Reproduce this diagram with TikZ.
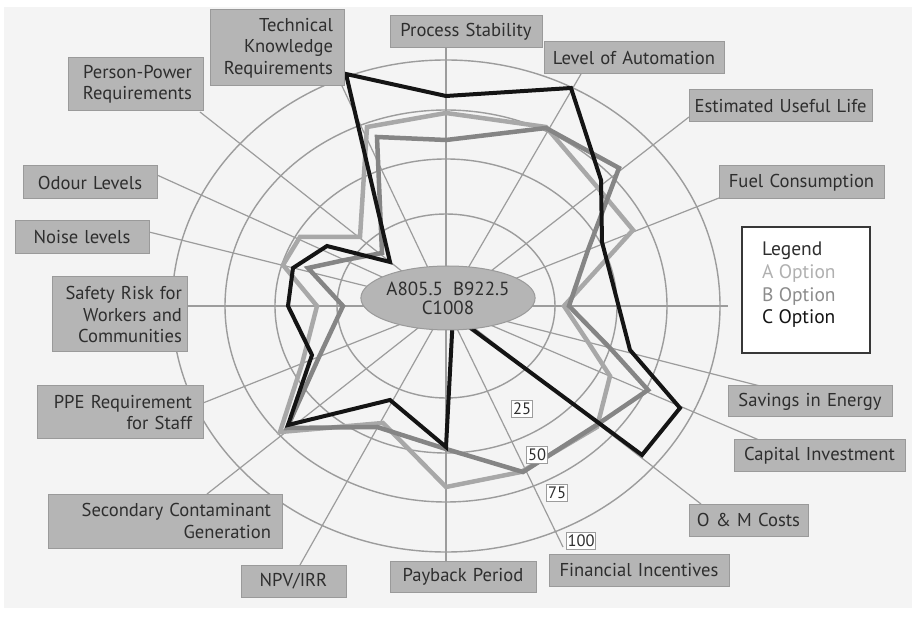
\documentclass[tikz,border=0pt]{standalone}
\usepackage{fontspec}
\setmainfont{PT Sans}
\usetikzlibrary{shapes.geometric}
\definecolor{bgc}{HTML}{F4F4F4}
\definecolor{gridc}{HTML}{9C9C9C}
\definecolor{boxfill}{HTML}{B5B5B5}
\definecolor{boxedge}{HTML}{9A9A9A}
\definecolor{txt}{HTML}{2E2E2E}
\definecolor{optA}{HTML}{A8A8A8}
\definecolor{optB}{HTML}{858585}
\definecolor{optC}{HTML}{141414}
\definecolor{legA}{HTML}{B0B0B0}
\definecolor{legB}{HTML}{8C8C8C}
\begin{document}
\begin{tikzpicture}[x=1pt,y=-1pt,
  lbl/.style={draw=boxedge, fill=boxfill, line width=1pt, inner xsep=8pt, inner ysep=0pt,
    font=\fontsize{18.6}{21.5}\selectfont, text=txt},
  lblr/.style={lbl, align=right, inner xsep=11pt},
  ringlbl/.style={draw=gridc, fill=white, line width=1pt, inner xsep=1.5pt, inner ysep=0pt,
    minimum height=17pt, font=\fontsize{16.5}{16.5}\selectfont, text=txt},
  ring/.style={draw=gridc, line width=1.4pt},
  spoke/.style={draw=gridc, line width=1.2pt},
  series/.style={line width=4.5pt, line join=miter, miter limit=4}]

% page and chart background
\useasboundingbox (0,0) rectangle (916,617);
\fill[white] (0,0) rectangle (916,617);
\fill[bgc] (4,7) rectangle (912,608);

% centre of the chart
\coordinate (c) at (446,306);

% concentric rings
\draw[ring] (c) ellipse [x radius=109pt, y radius=92pt];
\draw[ring] (c) ellipse [x radius=171pt, y radius=147pt];
\draw[ring] (c) ellipse [x radius=221pt, y radius=196pt];
\draw[ring] (c) ellipse [x radius=274pt, y radius=246pt];

% spoke end points
\coordinate (e-tk)  at (342,86);
\coordinate (e-ps)  at (446,48);
\coordinate (e-loa) at (581,74);
\coordinate (e-eul) at (689,117);
\coordinate (e-fuel) at (719,198);
\coordinate (e-zero) at (728,306);
\coordinate (e-sav) at (760,386);
\coordinate (e-cap) at (759,440);
\coordinate (e-om)  at (701,504);
\coordinate (e-fin) at (563,547);
\coordinate (e-pay) at (446,561);
\coordinate (e-npv) at (300,565);
\coordinate (e-sec) at (207,494);
\coordinate (e-ppe) at (203,403);
\coordinate (e-saf) at (187,306);
\coordinate (e-noi) at (149,232);
\coordinate (e-odo) at (157,175);
\coordinate (e-pp)  at (200,112);

\foreach \e in {tk,ps,loa,eul,fuel,zero,sav,cap,om,fin,pay,npv,sec,ppe,saf,noi,odo,pp}
  \draw[spoke] (c) -- (e-\e);

% option A
\draw[series, optA] (367,127) -- (446,113) -- (546,127) -- (598,188) -- (633,230)
  -- (564,306) -- (588,342) -- (610,376) -- (597,427) -- (521,472) -- (446,487)
  -- (383,423) -- (280,432) -- (302,364) -- (317,306) -- (283,265) -- (300,237)
  -- (360,237) -- cycle;
% option B
\draw[series, optB] (377,137) -- (446,140) -- (546,128) -- (619,168) -- (588,250)
  -- (569,306) -- (610,348) -- (648,390) -- (598,424) -- (523,472) -- (446,449)
  -- (377,427) -- (287,428) -- (319,357) -- (343,306) -- (308,268) -- (345,260)
  -- (382,253) -- cycle;
% option C
\draw[series, optC, line width=4pt] (346,74) -- (446,96) -- (571,88) -- (601,180) -- (602,242)
  -- (630,350) -- (680,408) -- (642,455) -- (453,315) -- (446,447) -- (390,400)
  -- (288,425) -- (312,355) -- (288,306) -- (293,268) -- (327,246) -- (390,262)
  -- cycle;

% totals in the middle
\node[draw=boxedge, fill=boxfill, line width=1pt, ellipse, minimum width=150pt, minimum height=64pt,
  inner sep=0pt, font=\fontsize{19}{19}\selectfont, text=txt, align=center] (tot) at (448,298)
  {A805.5\hspace{10pt}B922.5\\C1008};

% category labels
\node[lblr, minimum width=134, minimum height=76, text width=112] (tk) at (277,48)
  {Technical\\Knowledge\\Requirements};
\node[lbl, minimum width=152, minimum height=32, text width=136, align=center] (ps) at (466,32) {Process Stability};
\node[lbl, minimum width=180, minimum height=32, text width=164, align=center] (loa) at (634,58) {Level of Automation};
\node[lbl, minimum width=183, minimum height=32, text width=175, align=center, inner xsep=4pt] (eul) at (780.5,106) {Estimated Useful Life};
\node[lbl, minimum width=165, minimum height=33, text width=149, align=center] (fuel) at (801.5,182.5) {Fuel Consumption};
\node[lbl, minimum width=164, minimum height=31, text width=148, align=center] (sav) at (810,401.5) {Savings in Energy};
\node[lbl, minimum width=171, minimum height=32, text width=155, align=center] (cap) at (819.5,456) {Capital Investment};
\node[lbl, minimum width=119, minimum height=32, text width=113, align=center, inner xsep=3pt] (om) at (748.5,520) {O \& M Costs};
\node[lbl, minimum width=180, minimum height=32, text width=164, align=center] (fin) at (639,570) {Financial Incentives};
\node[lbl, minimum width=146, minimum height=31, text width=130, align=center] (pay) at (463,576.5) {Payback Period};
\node[lbl, minimum width=105, minimum height=32, text width=89, align=center] (npv) at (293.5,581) {NPV/IRR};
\node[lblr, minimum width=234, minimum height=54, text width=212] (sec) at (165,521)
  {Secondary Contaminant\\Generation};
\node[lblr, minimum width=166, minimum height=53, text width=144] (ppe) at (120,412.5)
  {PPE Requirement\\for Staff};
\node[lblr, minimum width=135, minimum height=75, text width=125, inner xsep=5pt] (saf) at (119.5,314.5)
  {Safety Risk for\\Workers and\\Communities};
\node[lbl, minimum width=134, minimum height=33, text width=118, align=center] (noi) at (82,237.5) {Noise levels};
\node[lbl, minimum width=134, minimum height=33, text width=118, align=center] (odo) at (90,182.5) {Odour Levels};
\node[lblr, minimum width=135, minimum height=53, text width=113] (pp) at (135.5,84.5)
  {Person-Power\\Requirements};

% ring values along the financial incentives spoke
\node[ringlbl] (r25)  at (522,409) {25};
\node[ringlbl] (r50)  at (537,455) {50};
\node[ringlbl] (r75)  at (557,493) {75};
\node[ringlbl] (r100) at (581,541) {100};

% legend
\node[draw=optC!85, fill=white, line width=1.5pt, minimum width=128, minimum height=126] (leg) at (806,290) {};
\node[anchor=north west, inner sep=0pt, align=left, font=\fontsize{19.5}{22.7}\selectfont] (legtext) at (762,242)
  {\textcolor{txt}{Legend}\\\textcolor{legA}{A Option}\\\textcolor{legB}{B Option}\\\textcolor{optC}{C Option}};
\end{tikzpicture}
\end{document}
